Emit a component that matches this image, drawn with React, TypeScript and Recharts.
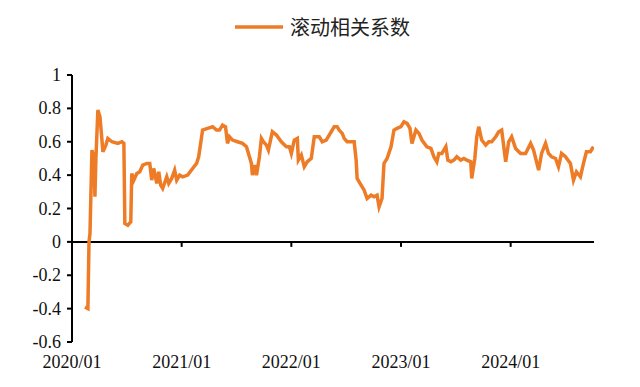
import { LineChart, Line, XAxis, YAxis, ReferenceLine, Legend } from "recharts";

// decimal year of each reading (2020.0 = 2020/01)
const dates = [
  2020.118, 2020.145, 2020.155, 2020.164, 2020.182, 2020.2, 2020.209, 2020.218, 2020.236, 2020.255,
  2020.282, 2020.309, 2020.327, 2020.364, 2020.418, 2020.455, 2020.473, 2020.482, 2020.509, 2020.536,
  2020.545, 2020.564, 2020.591, 2020.618, 2020.645, 2020.682, 2020.709, 2020.727, 2020.745, 2020.773,
  2020.791, 2020.809, 2020.827, 2020.864, 2020.882, 2020.909, 2020.936, 2020.955, 2020.982, 2021.009,
  2021.055, 2021.1, 2021.136, 2021.155, 2021.182, 2021.191, 2021.236, 2021.282, 2021.318, 2021.345,
  2021.373, 2021.4, 2021.418, 2021.436, 2021.464, 2021.509, 2021.555, 2021.591, 2021.618, 2021.636,
  2021.645, 2021.664, 2021.682, 2021.709, 2021.727, 2021.745, 2021.773, 2021.791, 2021.827, 2021.864,
  2021.909, 2021.955, 2021.982, 2022.0, 2022.027, 2022.055, 2022.064, 2022.091, 2022.118, 2022.145,
  2022.182, 2022.209, 2022.255, 2022.282, 2022.318, 2022.364, 2022.391, 2022.418, 2022.436, 2022.464,
  2022.482, 2022.509, 2022.545, 2022.573, 2022.591, 2022.6, 2022.636, 2022.664, 2022.691, 2022.727,
  2022.755, 2022.782, 2022.8, 2022.827, 2022.845, 2022.873, 2022.909, 2022.936, 2022.964, 2023.0,
  2023.027, 2023.055, 2023.082, 2023.1, 2023.136, 2023.164, 2023.191, 2023.236, 2023.273, 2023.3,
  2023.327, 2023.345, 2023.373, 2023.409, 2023.427, 2023.455, 2023.482, 2023.509, 2023.545, 2023.573,
  2023.6, 2023.636, 2023.645, 2023.673, 2023.691, 2023.709, 2023.736, 2023.773, 2023.8, 2023.827,
  2023.864, 2023.891, 2023.918, 2023.955, 2023.982, 2024.009, 2024.045, 2024.091, 2024.136, 2024.182,
  2024.209, 2024.255, 2024.282, 2024.318, 2024.345, 2024.373, 2024.409, 2024.436, 2024.464, 2024.5,
  2024.545, 2024.573, 2024.6, 2024.636, 2024.664, 2024.691, 2024.727, 2024.755,
];

const corr = [
  -0.39, -0.4, 0.0, 0.05, 0.55, 0.5, 0.27, 0.5, 0.79, 0.75,
  0.54, 0.58, 0.62, 0.6, 0.59, 0.6, 0.59, 0.11, 0.1, 0.12,
  0.41, 0.37, 0.41, 0.42, 0.46, 0.47, 0.47, 0.37, 0.44, 0.35,
  0.42, 0.34, 0.32, 0.39, 0.35, 0.38, 0.43, 0.37, 0.4, 0.39,
  0.4, 0.44, 0.47, 0.51, 0.63, 0.67, 0.68, 0.69, 0.67, 0.67,
  0.7, 0.69, 0.59, 0.63, 0.61, 0.6, 0.59, 0.57, 0.51, 0.47,
  0.4, 0.46, 0.4, 0.51, 0.62, 0.6, 0.58, 0.55, 0.66, 0.64,
  0.6, 0.57, 0.57, 0.53, 0.61, 0.62, 0.49, 0.52, 0.45, 0.48,
  0.5, 0.63, 0.63, 0.6, 0.61, 0.66, 0.69, 0.69, 0.67, 0.65,
  0.62, 0.6, 0.6, 0.6, 0.49, 0.38, 0.34, 0.31, 0.26, 0.28,
  0.27, 0.28, 0.21, 0.26, 0.47, 0.5, 0.57, 0.67, 0.68, 0.69,
  0.72, 0.71, 0.68, 0.59, 0.67, 0.65, 0.61, 0.57, 0.56, 0.51,
  0.48, 0.53, 0.53, 0.57, 0.49, 0.48, 0.49, 0.51, 0.49, 0.5,
  0.49, 0.48, 0.38, 0.5, 0.63, 0.69, 0.61, 0.58, 0.6, 0.6,
  0.63, 0.66, 0.67, 0.48, 0.6, 0.63, 0.56, 0.53, 0.53, 0.59,
  0.55, 0.43, 0.53, 0.59, 0.53, 0.51, 0.5, 0.45, 0.53, 0.51,
  0.47, 0.37, 0.42, 0.39, 0.47, 0.54, 0.54, 0.57,
];

const yearTicks = [2020, 2021, 2022, 2023, 2024];
const yTicks = [-0.6, -0.4, -0.2, 0, 0.2, 0.4, 0.6, 0.8, 1];
const seriesName = "滚动相关系数";

const data = dates.map((t, i) => ({ t, v: corr[i] }));

const ORANGE = "#EE7B26";
const serif = "Liberation Serif, serif";

function LegendBox() {
  return (
    <div style={{ display: "flex", alignItems: "center", position: "absolute", left: 227, top: 6 }}>
      <svg width={48} height={6}>
        <line x1={0} y1={3} x2={48} y2={3} stroke={ORANGE} strokeWidth={3.5} />
      </svg>
      <span
        style={{
          marginLeft: 7,
          fontFamily: "'Noto Sans CJK SC', sans-serif",
          fontSize: 20,
          color: "#222",
          lineHeight: "26px",
        }}
      >
        {seriesName}
      </span>
    </div>
  );
}

function XTick(props: any) {
  const { x, y, payload } = props;
  return (
    <text x={x} y={y} dy={14} textAnchor="middle" fill="#111" fontFamily={serif} fontSize={18}>
      {`${payload.value}/01`}
    </text>
  );
}

function YTick(props: any) {
  const { x, y, payload } = props;
  const label = `${Math.round(payload.value * 10) / 10}`;
  return (
    <text x={x} y={y} dy={6} textAnchor="end" fill="#111" fontFamily={serif} fontSize={18}>
      {label}
    </text>
  );
}

export default function App() {
  return (
    <div style={{ background: "#fff", fontFamily: serif }}>
      <LineChart width={632} height={379} data={data} margin={{ top: 67, right: 46, bottom: 0, left: 0 }}>
        <Legend
          verticalAlign="middle"
          align="center"
          content={() => <LegendBox />}
          wrapperStyle={{ top: 0, left: 0, width: 632, height: 40 }}
        />
        <XAxis
          dataKey="t"
          type="number"
          domain={[2020, 2024.76]}
          ticks={yearTicks}
          allowDataOverflow
          axisLine={false}
          tickLine={false}
          height={45}
          tickSize={6}
          tickMargin={6}
          tick={XTick}
        />
        <YAxis
          type="number"
          domain={[-0.6, 1]}
          ticks={yTicks}
          width={64}
          interval={0}
          axisLine={{ stroke: "#000", strokeWidth: 2 }}
          tickLine={{ stroke: "#000", strokeWidth: 2 }}
          tickSize={5}
          tickMargin={6}
          tick={YTick}
        />
        <ReferenceLine y={0} stroke="#000" strokeWidth={2} />
        {yearTicks.slice(1).map((yr) => (
          <ReferenceLine
            key={yr}
            segment={[
              { x: yr, y: 0 },
              { x: yr, y: -0.03 },
            ]}
            stroke="#000"
            strokeWidth={2}
          />
        ))}
        <Line
          type="linear"
          dataKey="v"
          stroke={ORANGE}
          strokeWidth={3.5}
          dot={false}
          isAnimationActive={false}
        />
      </LineChart>
    </div>
  );
}
